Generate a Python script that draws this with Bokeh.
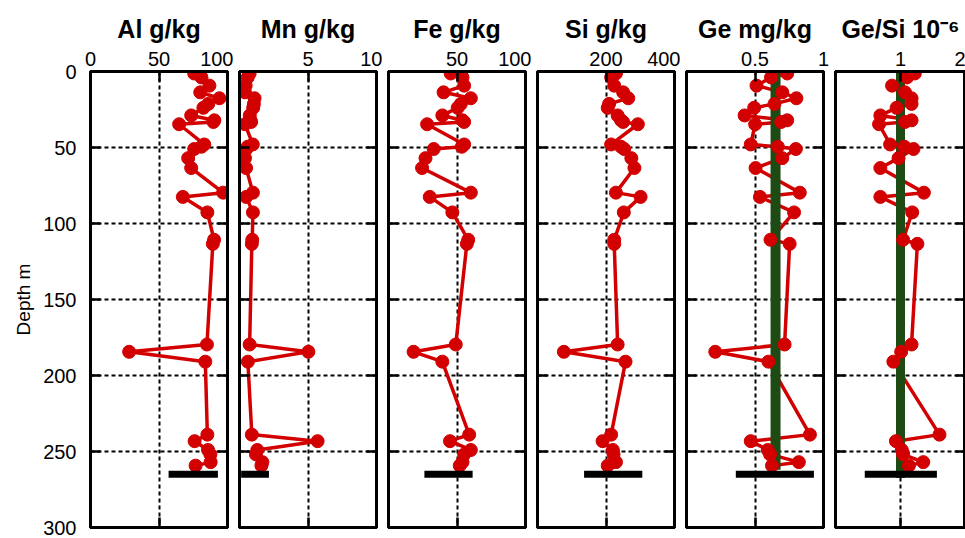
from bokeh.plotting import figure
from bokeh.layouts import row
from bokeh.models import Range1d, LinearAxis, FixedTicker, NumeralTickFormatter
from bokeh.embed import file_html
from bokeh.resources import INLINE

# ---------------- data ----------------
depth = [1.3, 3.9, 9.3, 13.7, 17.6, 21.3, 23.9, 28.9, 32.1, 33.2, 34.7, 48.0, 49.5, 51.0,
         57.0, 63.5, 79.7, 82.5, 92.7, 110.7, 113.4, 179.6, 184.4, 190.9, 238.9, 243.2,
         249.0, 251.9, 257.0, 259.3]

al = [75.7, 81.0, 86.8, 80.1, 94.1, 86.0, 82.4, 73.5, 90.4, 89.7, 64.7, 83.0, 81.0, 75.7,
      71.3, 73.5, 96.8, 67.4, 85.3, 90.2, 89.3, 85.0, 28.2, 83.8, 85.3, 76.0, 85.8, 87.5,
      87.7, 76.7]

mn = [0.74, 0.60, 0.45, 0.40, 1.10, 1.05, 1.00, 0.75, 0.80, 0.85, 0.40, 0.97, 0.60, 0.50,
      0.40, 0.48, 0.98, 0.49, 0.98, 0.93, 0.90, 0.74, 5.03, 0.61, 0.90, 5.70, 1.30, 1.20,
      1.67, 1.60]

fe = [45.4, 54.0, 55.2, 40.2, 60.1, 52.8, 50.5, 39.3, 54.0, 55.2, 28.2, 55.2, 53.5, 33.0,
      27.0, 24.5, 60.1, 30.1, 46.6, 58.2, 57.2, 49.1, 18.3, 39.3, 58.9, 44.9, 60.1, 55.2,
      54.0, 52.0]

si = [229, 215, 224, 250, 265, 209, 205, 234, 244, 250, 293, 215, 244, 253, 274, 283, 229,
      301, 252, 224, 224, 234, 77, 257, 215, 190, 220, 222, 229, 205]

ge = [0.735, 0.617, 0.511, 0.699, 0.802, 0.642, 0.494, 0.424, 0.735, 0.691, 0.501, 0.469,
      0.667, 0.798, 0.699, 0.504, 0.827, 0.536, 0.785, 0.613, 0.753, 0.716, 0.210, 0.598,
      0.901, 0.469, 0.593, 0.610, 0.820, 0.624]

ge_si = [1.22, 1.10, 0.87, 1.07, 1.17, 1.17, 0.94, 0.69, 1.17, 1.07, 0.67, 0.84, 1.06, 1.20,
         0.97, 0.69, 1.36, 0.69, 1.18, 1.04, 1.26, 1.17, 1.01, 0.89, 1.60, 0.93, 1.02, 1.04,
         1.35, 1.13]

series = [al, mn, fe, si, ge, ge_si]
titles = ["Al g/kg", "Mn g/kg", "Fe g/kg", "Si g/kg", "Ge mg/kg", "Ge/Si 10\u207b\u2076"]
x_limits = [(0, 100), (0, 10), (0, 100), (0, 400), (0, 1), (0, 2)]
x_ticks = [[0, 50, 100], [5, 10], [50, 100], [200, 400], [0.5, 1], [1, 2]]
depth_ticks = [0, 50, 100, 150, 200, 250, 300]
depth_limits = (300, 0)

# reference range bars (low, high) at a common depth
bar_low = [57.0, 0.12, 26.2, 136, 0.36, 0.45]
bar_high = [93.0, 2.15, 61.4, 306, 0.93, 1.56]
bar_depth = 265

# vertical reference values (Ge panel and Ge/Si panel)
ref_panel = [4, 5]
ref_value = [0.65, 1.0]
ref_top = [0, 0]
ref_bottom = [262, 267.5]

# ---------------- style ----------------
FONT = "Liberation Sans"
RED = "#d20000"
GREEN = "#1e4a14"


def style_axis(ax, show_labels, standoff):
    ax.major_tick_in = 10
    ax.major_tick_out = 0
    ax.major_tick_line_width = 2.5
    ax.major_tick_line_color = "black"
    ax.minor_tick_line_color = None
    ax.axis_line_width = 3
    ax.axis_line_color = "black"
    ax.major_label_text_font = FONT
    ax.major_label_text_font_size = "20px"
    ax.major_label_standoff = standoff
    if show_labels:
        ax.major_label_text_color = "black"
    else:
        ax.major_label_text_color = None
        ax.major_label_standoff = 0


panels = []
for i, xs in enumerate(series):
    first = i == 0
    last = i == len(series) - 1
    p = figure(frame_width=130 if last else 137, frame_height=456,
               x_range=Range1d(*x_limits[i]), y_range=Range1d(*depth_limits),
               x_axis_location="above", y_axis_location="left",
               output_backend="svg", toolbar_location=None,
               min_border_left=90 if first else 6,
               min_border_right=0 if last else 6,
               min_border_top=71, min_border_bottom=11,
               background_fill_color="white", border_fill_color="white")
    p.outline_line_color = "black"
    p.outline_line_width = 3

    top = p.xaxis[0]
    top.ticker = FixedTicker(ticks=x_ticks[i])
    if i == 4:
        top.formatter = NumeralTickFormatter(format="0.[0]")
    style_axis(top, True, 6)
    top.axis_label = titles[i]
    top.axis_label_text_font = FONT
    top.axis_label_text_font_size = "25px"
    top.axis_label_text_font_style = "bold"
    top.axis_label_text_color = "black"
    top.axis_label_standoff = 6

    left = p.yaxis[0]
    left.ticker = FixedTicker(ticks=depth_ticks)
    style_axis(left, first, 14)
    if first:
        left.axis_label = "Depth m"
        left.axis_label_text_font = FONT
        left.axis_label_text_font_size = "19px"
        left.axis_label_text_font_style = "normal"
        left.axis_label_text_color = "black"
        left.axis_label_standoff = 6

    bottom = LinearAxis(ticker=FixedTicker(ticks=x_ticks[i]))
    style_axis(bottom, False, 0)
    p.add_layout(bottom, "below")
    right = LinearAxis(ticker=FixedTicker(ticks=depth_ticks))
    style_axis(right, False, 0)
    p.add_layout(right, "right")

    for g in (p.xgrid[0], p.ygrid[0]):
        g.grid_line_color = "black"
        g.grid_line_width = 2
        g.grid_line_dash = "4 3"
    p.xgrid[0].ticker = FixedTicker(ticks=x_ticks[i])
    p.ygrid[0].ticker = FixedTicker(ticks=depth_ticks)

    p.line(xs, depth, line_color=RED, line_width=3.5)
    if i in ref_panel:
        k = ref_panel.index(i)
        p.segment(x0=[ref_value[k]], y0=[ref_top[k]], x1=[ref_value[k]], y1=[ref_bottom[k]],
                  line_color=GREEN, line_width=10 if i == 4 else 9)
    p.scatter(xs, depth, size=13, fill_color=RED, line_color=RED, line_width=1)
    p.segment(x0=[bar_low[i]], y0=[bar_depth], x1=[bar_high[i]], y1=[bar_depth],
              line_color="black", line_width=7)
    panels.append(p)

layout = row(*panels)
open("out.html", "w").write(file_html(layout, INLINE))
